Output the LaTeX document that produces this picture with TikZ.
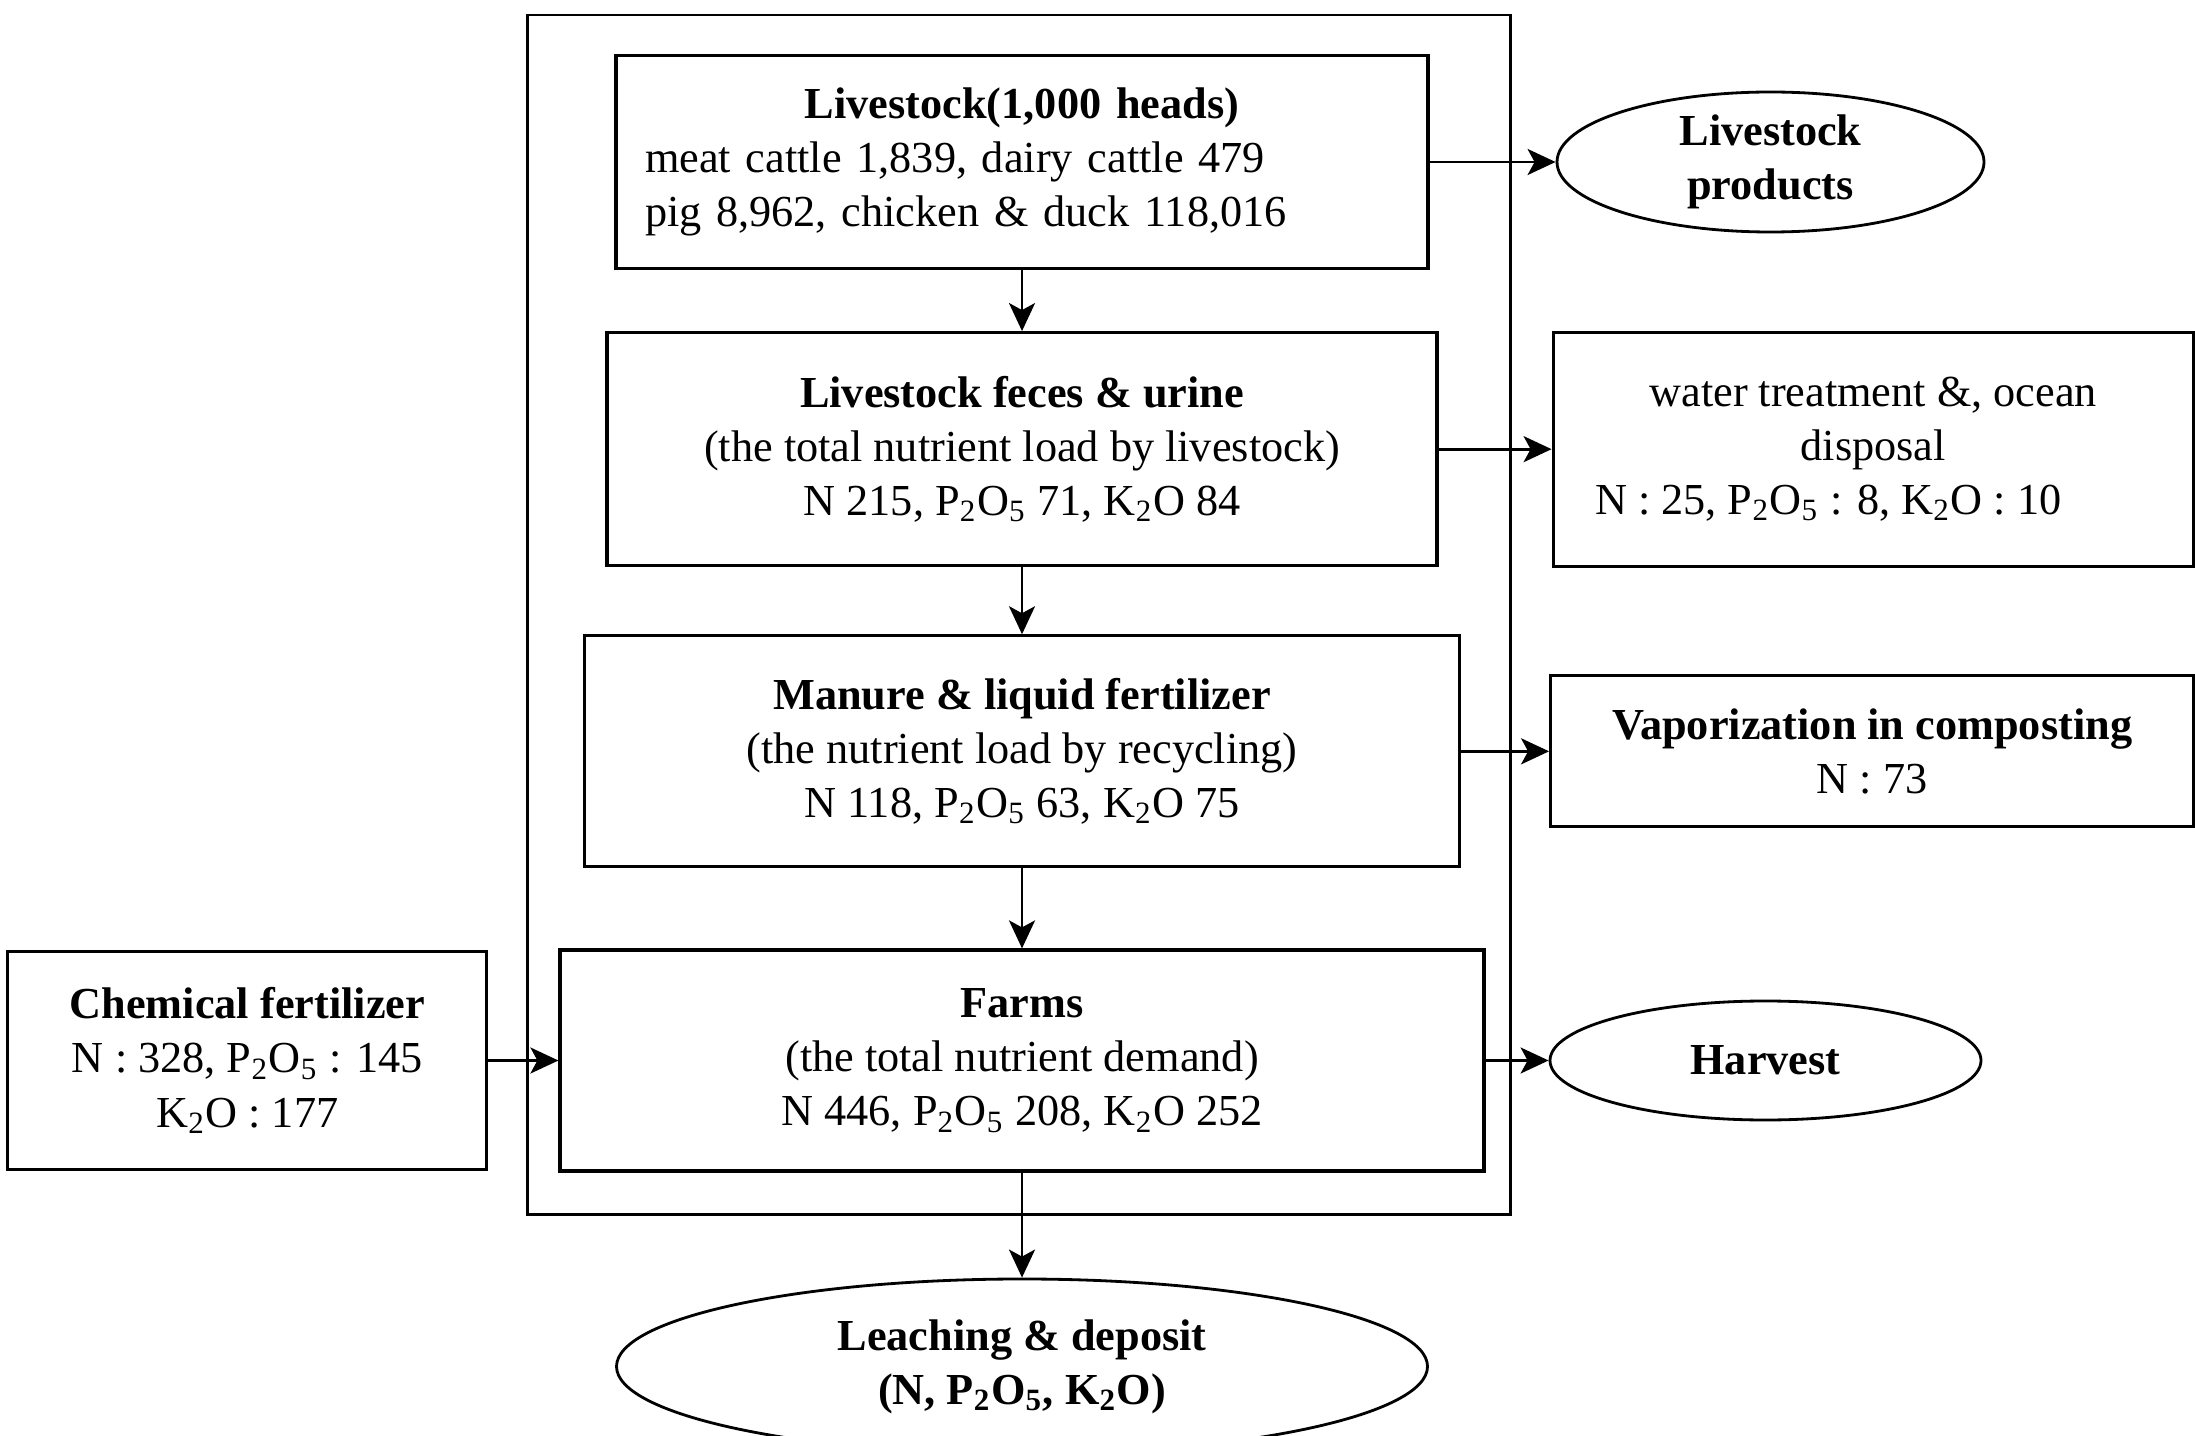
\documentclass[tikz,border=0pt]{standalone}
\usepackage{fontspec}
\setmainfont{Liberation Serif}
\usetikzlibrary{arrows.meta,positioning,calc,shapes.geometric}
\newcommand{\PfO}{P\textsubscript{2}O\textsubscript{5}}
\newcommand{\KtO}{K\textsubscript{2}O}

\begin{document}
\begin{tikzpicture}[>={Stealth[length=2.8mm,width=2.6mm,inset=0.7mm]},
  every node/.append style={font=\fontsize{12.6}{15.4}\selectfont},
  box/.style={draw, line width=0.9pt, align=center, inner sep=2pt},
  oval/.style={ellipse, draw, line width=0.8pt, align=center, inner sep=0pt, font=\fontsize{12.6}{15.4}\selectfont\bfseries},
  arr/.style={->, line width=0.8pt} ]
\useasboundingbox (0,0) rectangle (21.95,-14.35);

% main column
\node[box, minimum width=8.12cm, minimum height=2.13cm, text width=7.54cm, align=left] (lv) at (10.22,-1.62)
  {\makebox[\linewidth]{\textbf{Livestock(1,000 heads)}}\\ meat cattle 1,839, dairy cattle 479\\ pig 8,962, chicken \& duck 118,016};
\node[box, below=6.1mm of lv, minimum width=8.30cm, minimum height=2.33cm] (fec)
  {\textbf{Livestock feces \& urine}\\ (the total nutrient load by livestock)\\ N 215, \PfO{} 71, \KtO{} 84};
\node[box, below=6.7mm of fec, minimum width=8.75cm, minimum height=2.31cm] (man)
  {\textbf{Manure \& liquid fertilizer}\\ (the nutrient load by recycling)\\ N 118, \PfO{} 63, \KtO{} 75};
\node[box, below=8mm of man, minimum width=9.24cm, minimum height=2.21cm] (farm)
  {\textbf{Farms}\\ (the total nutrient demand)\\ N 446, \PfO{} 208, \KtO{} 252};
\node[oval, below=10.5mm of farm, minimum width=8.11cm, minimum height=1.75cm] (leach)
  {Leaching \& deposit\\ (N, \PfO, \KtO)};

\draw[line width=0.8pt] ($(farm.west |- lv.north)+(-3.1mm,3.9mm)$) rectangle ($(farm.south east)+(2.5mm,-4.2mm)$);

% side nodes
\node[oval, right=12.6mm of lv, minimum width=4.27cm, minimum height=1.40cm] (lp) {Livestock\\ products};
\node[box, right=11.3mm of fec, minimum width=6.40cm, minimum height=2.34cm] (wat)
  {water treatment \&, ocean\\ disposal\\ N : 25, \PfO{} : 8, \KtO{} : 10\hspace*{0.9cm}};
\node[box, right=8.8mm of man, minimum width=6.43cm, minimum height=1.51cm] (vap)
  {\textbf{Vaporization in composting}\\ N : 73};
\node[oval, right=6.3mm of farm, minimum width=4.31cm, minimum height=1.19cm] (harv) {Harvest};
\node[box, left=7mm of farm, minimum width=4.79cm, minimum height=2.18cm] (chem)
  {\textbf{Chemical fertilizer}\\ N : 328, \PfO{} : 145\\ \KtO{} : 177};

\draw[arr] (lv) -- (fec);
\draw[arr] (fec) -- (man);
\draw[arr] (man) -- (farm);
\draw[arr] (farm) -- (leach);
\draw[arr] (lv) -- (lp);
\draw[arr] (fec) -- (wat);
\draw[arr] (man) -- (vap);
\draw[arr] (farm) -- (harv);
\draw[arr] (chem) -- (farm);

\end{tikzpicture}
\end{document}
